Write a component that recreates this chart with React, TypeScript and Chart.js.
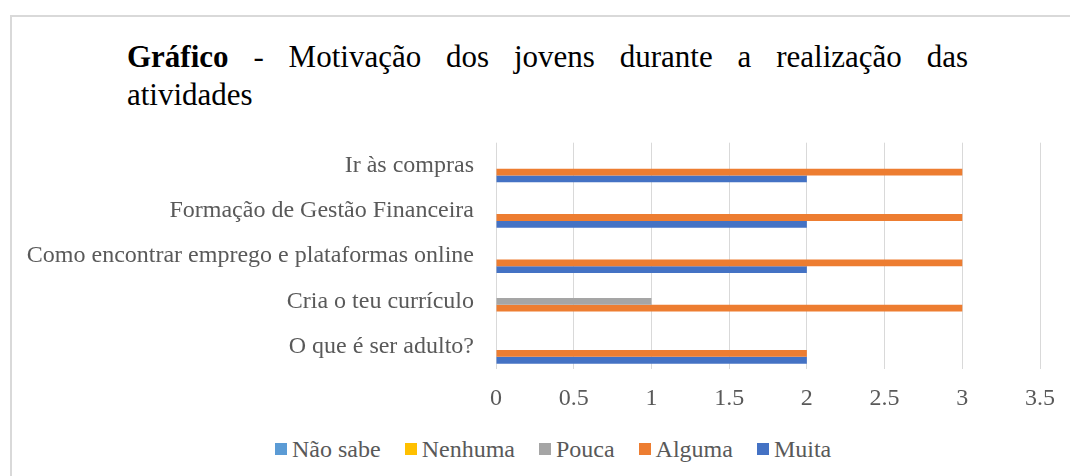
import React, { useEffect, useRef } from "react";
import { Chart, registerables } from "chart.js";

Chart.register(...registerables);

const categories = [
  "Ir às compras",
  "Formação de Gestão Financeira",
  "Como encontrar emprego e plataformas online",
  "Cria o teu currículo",
  "O que é ser adulto?",
];
const seriesNames = ["Não sabe", "Nenhuma", "Pouca", "Alguma", "Muita"];
const naoSabe = [0, 0, 0, 0, 0];
const nenhuma = [0, 0, 0, 0, 0];
const pouca = [0, 0, 0, 1, 0];
const alguma = [3, 3, 3, 3, 2];
const muita = [2, 2, 2, 0, 2];
const seriesColors = ["#5B9BD5", "#FFC000", "#A5A5A5", "#ED7D31", "#4472C4"];
const xMin = 0;
const xMax = 3.5;
const xStep = 0.5;

const titleBold = "Gráfico";
const titleLine1 = " - Motivação dos jovens durante a realização das";
const titleLine2 = "atividades";

const FONT = "'Liberation Serif', 'Times New Roman', serif";
const TEXT = "#595959";

export default function App() {
  const ref = useRef<HTMLCanvasElement | null>(null);

  useEffect(() => {
    if (!ref.current) return;
    const values = [naoSabe, nenhuma, pouca, alguma, muita];
    const chart = new Chart(ref.current, {
      type: "bar",
      data: {
        labels: categories,
        datasets: seriesNames.map((name, i) => ({
          label: name,
          data: values[i],
          backgroundColor: seriesColors[i],
          borderWidth: 0,
          barPercentage: 1,
          categoryPercentage: 0.75,
        })),
      },
      options: {
        indexAxis: "y",
        animation: false,
        responsive: false,
        maintainAspectRatio: false,
        layout: { padding: { top: 22.7, right: 30, bottom: 10.7, left: 0 } },
        plugins: {
          legend: { display: false },
          tooltip: { enabled: false },
        },
        scales: {
          x: {
            min: xMin,
            max: xMax,
            ticks: {
              stepSize: xStep,
              color: TEXT,
              font: { family: FONT, size: 24 },
              padding: 15,
              callback: (v: any) => String(Number(v)),
            },
            grid: { color: "#d9d9d9", lineWidth: 1, drawTicks: false },
            border: { display: false },
            afterFit: (s: any) => {
              s.height = 40;
            },
          },
          y: {
            ticks: {
              color: TEXT,
              font: { family: FONT, size: 24 },
              padding: 22,
            },
            grid: { display: false, drawTicks: false },
            border: { display: false },
            afterFit: (s: any) => {
              s.width = 496;
              s.paddingTop = 0;
              s.paddingBottom = 0;
            },
          },
        },
      },
    });
    return () => chart.destroy();
  }, []);

  return (
    <div
      style={{
        position: "absolute",
        left: 0,
        top: 0,
        width: 1070,
        height: 476,
        overflow: "hidden",
        background: "#fff",
      }}
    >
      <div
        style={{
          position: "absolute",
          left: 10,
          top: 15,
          width: 1100,
          height: 500,
          borderLeft: "2px solid #d9d9d9",
          borderTop: "2px solid #d9d9d9",
          boxSizing: "border-box",
        }}
      />
      <div
        style={{
          position: "absolute",
          left: 127,
          top: 38,
          width: 841,
          fontFamily: FONT,
          fontSize: 31,
          lineHeight: "37.5px",
          color: "#000",
        }}
      >
        <div style={{ textAlign: "justify", textAlignLast: "justify" as any }}>
          <b>{titleBold}</b>
          {titleLine1}
        </div>
        <div>{titleLine2}</div>
      </div>
      <canvas
        ref={ref}
        width={1070}
        height={300}
        style={{ position: "absolute", left: 0, top: 120, width: 1070, height: 300 }}
      />
      <div
        style={{
          position: "absolute",
          left: 275,
          top: 434,
          display: "flex",
          justifyContent: "flex-start",
          fontFamily: FONT,
          fontSize: 24,
          lineHeight: "30px",
          color: TEXT,
          whiteSpace: "nowrap",
        }}
      >
        {seriesNames.map((n, i) => (
          <div key={n} style={{ display: "flex", alignItems: "center", marginRight: i < seriesNames.length - 1 ? 24 : 0 }}>
            <span style={{ display: "inline-block", width: 12, height: 12, background: seriesColors[i], marginRight: 5 }} />
            <span>{n}</span>
          </div>
        ))}
      </div>
    </div>
  );
}
